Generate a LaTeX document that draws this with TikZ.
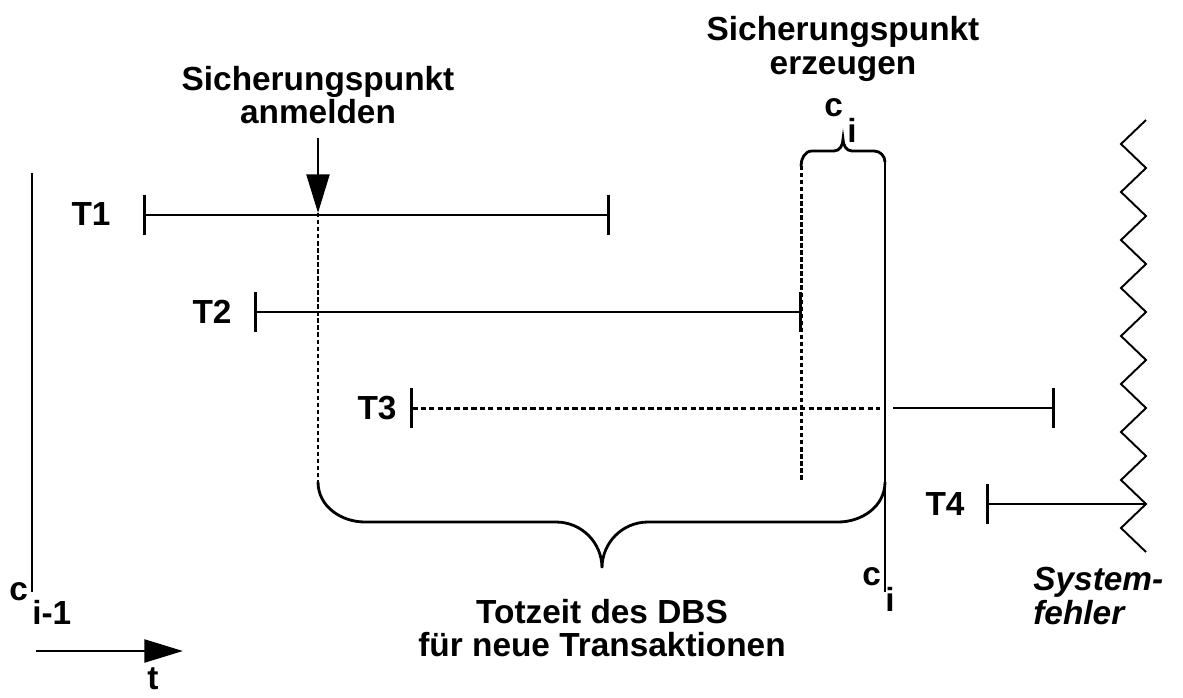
\documentclass[tikz,border=0pt]{standalone}
\usepackage{fontspec}
\setmainfont{Liberation Sans}
\usepackage{tikz}
\usetikzlibrary{arrows.meta}
\newcommand{\cidx}[2][0.74em]{c\kern2.5pt\raisebox{-#1}{#2}}

\begin{document}
\begin{tikzpicture}[x=0.02cm, y=-0.02cm,
    lab/.style={font=\fontsize{19}{19}\selectfont\bfseries, inner sep=0pt, align=center},
    tline/.style={line width=1.6pt},
    dline/.style={line width=1.7pt, dash pattern=on 2.5pt off 1.5pt},
    hline/.style={line width=1.7pt, dash pattern=on 3pt off 1.8pt},
    bar/.style={line width=1.6pt, {Bar[width=23pt]}-{Bar[width=23pt]}},
    arrow/.style={-{Triangle[length=22pt, width=13pt]}, line width=1.6pt},
    zz/.style={line width=1.1pt, line join=miter}
]
\useasboundingbox (0,0) rectangle (1183,697);

% checkpoints
\coordinate (cold-t) at (32,173);
\coordinate (cold-b) at (32,592);
\coordinate (cnew-t) at (885,162);
\coordinate (cnew-b) at (885,592);
\draw[tline] (cold-t) -- (cold-b);
\draw[tline] (cnew-t) -- (cnew-b);
\node[lab, anchor=base west] (cold) at (9,600) {\cidx{i-1}};
\node[lab, anchor=base west] (cnew) at (862,585) {\cidx[0.8em]{i}};

% time axis
\coordinate (t0) at (36,651);
\coordinate (t1) at (183,651);
\draw[arrow] (t0) -- (t1);
\node[lab, anchor=base] (time) at (153,689) {t};

% transactions
\node[lab] (lt1) at (91,214) {T1};
\node[lab] (lt2) at (212,312) {T2};
\node[lab] (lt3) at (377,408) {T3};
\node[lab] (lt4) at (945,504) {T4};
\coordinate (t1a) at (143,215);
\coordinate (t1b) at (610,215);
\coordinate (t2a) at (254,312);
\coordinate (t2b) at (802,312);
\coordinate (t3a) at (410,408);
\coordinate (t3m) at (880,408);
\coordinate (t3n) at (893,408);
\coordinate (t3b) at (1055,408);
\coordinate (t4a) at (986,504);
\coordinate (t4b) at (1146,504);
\draw[bar] (t1a) -- (t1b);
\draw[bar] (t2a) -- (t2b);
\draw[hline, {Bar[width=23pt]}-] (t3a) -- (t3m);
\draw[tline, -{Bar[width=23pt]}] (t3n) -- (t3b);
\draw[tline, {Bar[width=23pt]}-] (t4a) -- (t4b);

% register checkpoint
\node[lab] (anm) at (318,95) {Sicherungspunkt\\anmelden};
\coordinate (anm-t) at (318,138);
\coordinate (anm-m) at (318,213);
\coordinate (anm-b) at (318,482);
\draw[arrow] (anm-t) -- (anm-m);
\draw[dline] (anm-m) -- (anm-b);

% create checkpoint
\node[lab] (erz) at (843,49) {Sicherungspunkt\\erzeugen};
\node[lab, anchor=base west] (ctop) at (824,116) {\cidx[0.8em]{i}};
\coordinate (erz-t) at (801,166);
\coordinate (erz-b) at (801,482);
\draw[dline] (erz-t) -- (erz-b);
\draw[tline] (erz-t) to[out=90,in=180] (812,151) -- (834,151)
    to[out=0,in=-90] (843,139) to[out=-90,in=180] (852,151) -- (874,151)
    to[out=0,in=90] (cnew-t);

% dead time
\coordinate (dead-b) at (885,482);
\draw[tline] (anm-b) to[out=-90,in=180] (365,522) -- (556,522)
    to[out=0,in=90] (602,568) to[out=90,in=180] (648,522) -- (838,522)
    to[out=0,in=-90] (dead-b);
\node[lab] (dead) at (602,628) {Totzeit des DBS\\für neue Transaktionen};

% system crash
\coordinate (zz0) at (1146,120);
\draw[zz] (zz0) \foreach \k in {1,3,...,17} { -- (1121,{120+24*\k}) -- (1146,{144+24*\k}) };
\node[lab, align=left, anchor=west, font=\fontsize{19}{19}\selectfont\bfseries\itshape] (crash) at (1033,596) {System-\\fehler};
\end{tikzpicture}
\end{document}
